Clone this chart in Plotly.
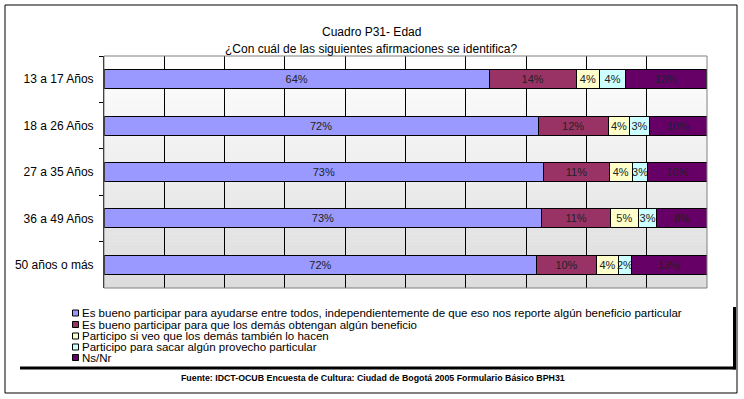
import plotly.graph_objects as go

categories = ["13 a 17 Años", "18 a 26 Años", "27 a 35 Años", "36 a 49 Años", "50 años o más"]
series_names = [
    "Es bueno participar para ayudarse entre todos, independientemente de que eso nos reporte algún beneficio particular",
    "Es bueno participar para que los demás obtengan algún beneficio",
    "Participo si veo que los demás también lo hacen",
    "Participo para sacar algún provecho particular",
    "Ns/Nr",
]
s_ayudarse = [63.9, 72.0, 72.9, 72.6, 71.8]
s_demas = [14.4, 11.6, 10.9, 11.4, 9.8]
s_siveo = [3.9, 3.6, 3.8, 4.6, 3.8]
s_provecho = [4.3, 3.2, 2.6, 3.1, 2.0]
s_nsnr = [13.4, 9.6, 9.8, 8.3, 12.6]
series_values = [s_ayudarse, s_demas, s_siveo, s_provecho, s_nsnr]
colors = ["#9999FF", "#993366", "#FFFFCC", "#CCFFFF", "#660066"]

title_1 = "Cuadro P31- Edad"
title_2 = "¿Con cuál de las siguientes afirmaciones se identifica?"
source = "Fuente: IDCT-OCUB Encuesta de Cultura: Ciudad de Bogotá 2005 Formulario Básico BPH31"

W, H = 744, 399
L, R, T, B = 104, 707, 56, 288
FONT = "Arial, Liberation Sans, sans-serif"

def px(x):
    return (x - L) / (R - L)

def py(y):
    return (B - y) / (B - T)

fig = go.Figure()
for name, vals, col in zip(series_names, series_values, colors):
    fig.add_trace(go.Bar(
        y=categories, x=vals, name=name, orientation="h",
        marker=dict(color=col, line=dict(color="black", width=1)),
        texttemplate="%{x:.0f}%", textposition="inside", insidetextanchor="middle",
        textangle=0, constraintext="none", cliponaxis=False,
        textfont=dict(family=FONT, size=11, color="#222222"),
        showlegend=False, hoverinfo="skip",
    ))

shapes = []
# gradient plot background
n = 60
for i in range(n):
    t = i / (n - 1)
    g = int(round(255 - t * (255 - 220)))
    shapes.append(dict(type="rect", xref="x domain", yref="y domain",
                       x0=0, x1=1, y0=1 - (i + 1) / n, y1=1 - i / n + 0.002,
                       fillcolor=f"rgb({g},{g},{g})", line=dict(width=0), layer="below"))
# plot border (grey)
shapes.append(dict(type="rect", xref="x domain", yref="y domain", x0=0, x1=1, y0=0, y1=1,
                   line=dict(color="#808080", width=1), layer="above"))
# outer chart border
shapes.append(dict(type="rect", xref="paper", yref="paper",
                   x0=px(5), x1=px(737), y0=py(393), y1=py(5),
                   line=dict(color="black", width=1)))
# legend shadow
shapes.append(dict(type="line", xref="paper", yref="paper",
                   x0=px(20), x1=px(735.5), y0=py(368), y1=py(368),
                   line=dict(color="black", width=3)))
shapes.append(dict(type="line", xref="paper", yref="paper",
                   x0=px(734.5), x1=px(734.5), y0=py(307), y1=py(369.5),
                   line=dict(color="black", width=3)))

annotations = [
    dict(text=title_1, xref="paper", yref="paper", x=px(371), y=py(23.5),
         showarrow=False, font=dict(family=FONT, size=12, color="black")),
    dict(text=title_2, xref="paper", yref="paper", x=px(371), y=py(40.5),
         showarrow=False, font=dict(family=FONT, size=12, color="black")),
    dict(text=source, xref="paper", yref="paper", x=px(373), y=py(385),
         showarrow=False, font=dict(family=FONT, size=8.8, color="black", weight="bold")),
]
# manual legend
leg_y = [313, 324.5, 336, 347, 357.5]
for name, col, yy in zip(series_names, colors, leg_y):
    shapes.append(dict(type="rect", xref="paper", yref="paper",
                       x0=px(72.5), x1=px(78.5), y0=py(yy + 3), y1=py(yy - 3),
                       fillcolor=col, line=dict(color="black", width=1)))
    annotations.append(dict(text=name, xref="paper", yref="paper", x=px(80), y=py(yy),
                            xanchor="left", yanchor="middle", showarrow=False,
                            font=dict(family=FONT, size=11.5, color="black")))

fig.update_layout(
    width=W, height=H, barmode="stack", bargap=0.59,
    margin=dict(l=L, r=W - R, t=T, b=H - B, pad=0),
    paper_bgcolor="white", plot_bgcolor="rgba(0,0,0,0)",
    xaxis=dict(range=[0, 100], dtick=10, showgrid=True, gridcolor="black", gridwidth=1,
               showticklabels=False, zeroline=False, showline=False, fixedrange=True),
    yaxis=dict(autorange="reversed", showline=True, linecolor="black", linewidth=1,
               ticks="outside", ticklen=4, tickcolor="black", tickson="boundaries",
               ticklabelstandoff=7, showgrid=False, fixedrange=True,
               tickfont=dict(family=FONT, size=12, color="black")),
    shapes=shapes, annotations=annotations,
    font=dict(family=FONT),
)
fig.write_html("out.html", config={"displayModeBar": False},
               post_script="document.body.style.margin='0';document.body.style.overflow='hidden';")
